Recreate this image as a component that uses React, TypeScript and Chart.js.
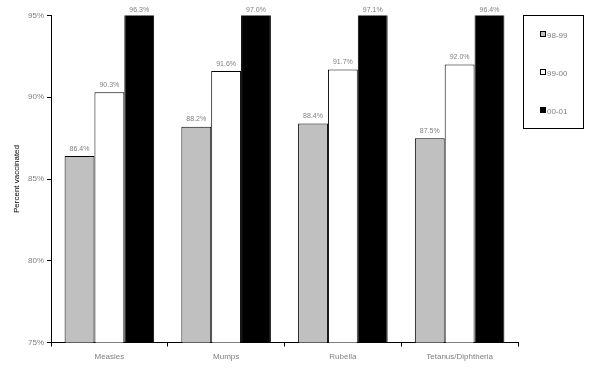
import React, { useEffect, useRef } from "react";
import { Chart, registerables } from "chart.js";

Chart.register(...registerables);

const categories = ["Measles", "Mumps", "Rubella", "Tetanus/Diphtheria"];
const seriesNames = ["98-99", "99-00", "00-01"];
const values9899 = [86.4, 88.2, 88.4, 87.5];
const values9900 = [90.3, 91.6, 91.7, 92.0];
const values0001 = [96.3, 97.0, 97.1, 96.4];
const seriesColors = ["#c0c0c0", "#ffffff", "#000000"];
const yTicks = [75, 80, 85, 90, 95];

const FONT = "'Liberation Sans', Arial, sans-serif";
const GRAY_TEXT = "#808080";

const labelPlugin = {
  id: "barLabels",
  afterDatasetsDraw(chart: any) {
    const ctx = chart.ctx;
    const top = chart.chartArea.top;
    ctx.save();
    ctx.font = `7px ${FONT}`;
    ctx.fillStyle = GRAY_TEXT;
    ctx.textAlign = "center";
    ctx.textBaseline = "middle";
    chart.data.datasets.forEach((ds: any, i: number) => {
      const meta = chart.getDatasetMeta(i);
      meta.data.forEach((bar: any, j: number) => {
        const v = ds.data[j];
        let y;
        if (bar.y < top) y = top - 5.5;
        else y = bar.y - 7.5;
        ctx.fillText(v.toFixed(1) + "%", bar.x, y);
      });
    });
    ctx.restore();
  },
};

const legendPlugin = {
  id: "boxLegend",
  afterDraw(chart: any) {
    const ctx = chart.ctx;
    ctx.save();
    ctx.strokeStyle = "#000";
    ctx.lineWidth = 1;
    ctx.strokeRect(523.5, 15.5, 60, 113);
    const ys = [34, 72, 110];
    ctx.font = `8px ${FONT}`;
    ctx.textAlign = "left";
    ctx.textBaseline = "middle";
    seriesNames.forEach((name, i) => {
      const y = ys[i];
      ctx.fillStyle = seriesColors[i];
      ctx.fillRect(540.5, y - 2.5, 5, 5);
      ctx.strokeStyle = "#000";
      ctx.strokeRect(540.5, y - 2.5, 5, 5);
      ctx.fillStyle = GRAY_TEXT;
      ctx.fillText(name, 547, y + 1.5);
    });
    ctx.restore();
  },
};

export default function App() {
  const ref = useRef<HTMLCanvasElement>(null);
  useEffect(() => {
    document.body.style.margin = "0";
    const datasets = [values9899, values9900, values0001].map((d, i) => ({
      label: seriesNames[i],
      data: d,
      backgroundColor: seriesColors[i],
      borderColor: "#000000",
      borderWidth: 1,
      barPercentage: 1,
      categoryPercentage: 0.767,
    }));
    const chart = new Chart(ref.current!, {
      type: "bar",
      data: { labels: categories, datasets },
      options: {
        animation: false,
        responsive: false,
        maintainAspectRatio: false,
        layout: { padding: { left: 0, right: 72, top: 15.5, bottom: 0 } },
        plugins: {
          legend: { display: false },
          tooltip: { enabled: false },
        },
        scales: {
          x: {
            grid: {
              display: true,
              drawOnChartArea: false,
              drawTicks: true,
              tickLength: 4,
              color: "#000",
              offset: true,
            },
            border: { color: "#000", width: 1 },
            ticks: {
              color: GRAY_TEXT,
              font: { family: FONT, size: 8 },
              padding: 5,
              maxRotation: 0,
            },
            afterFit(scale: any) {
              scale.height = 37.5;
            },
          },
          y: {
            min: 75,
            max: 95,
            afterBuildTicks(scale: any) {
              scale.ticks = yTicks.map((v) => ({ value: v }));
            },
            grid: {
              display: true,
              drawOnChartArea: false,
              drawTicks: true,
              tickLength: 4,
              color: "#000",
            },
            border: { color: "#000", width: 1 },
            ticks: {
              color: GRAY_TEXT,
              font: { family: FONT, size: 8 },
              padding: 3,
              callback: (v: any) => v + "%",
            },
            title: {
              display: true,
              text: "Percent vaccinated",
              color: "#000",
              font: { family: FONT, size: 8 },
              padding: { top: 12, bottom: 0 },
            },
            afterFit(scale: any) {
              scale.width = 51;
            },
          },
        },
      },
      plugins: [labelPlugin, legendPlugin],
    });
    return () => chart.destroy();
  }, []);
  return (
    <div style={{ position: "absolute", left: 0, top: 0, width: 590, height: 380, background: "#fff" }}>
      <canvas ref={ref} width={590} height={380} style={{ width: 590, height: 380 }} />
    </div>
  );
}
